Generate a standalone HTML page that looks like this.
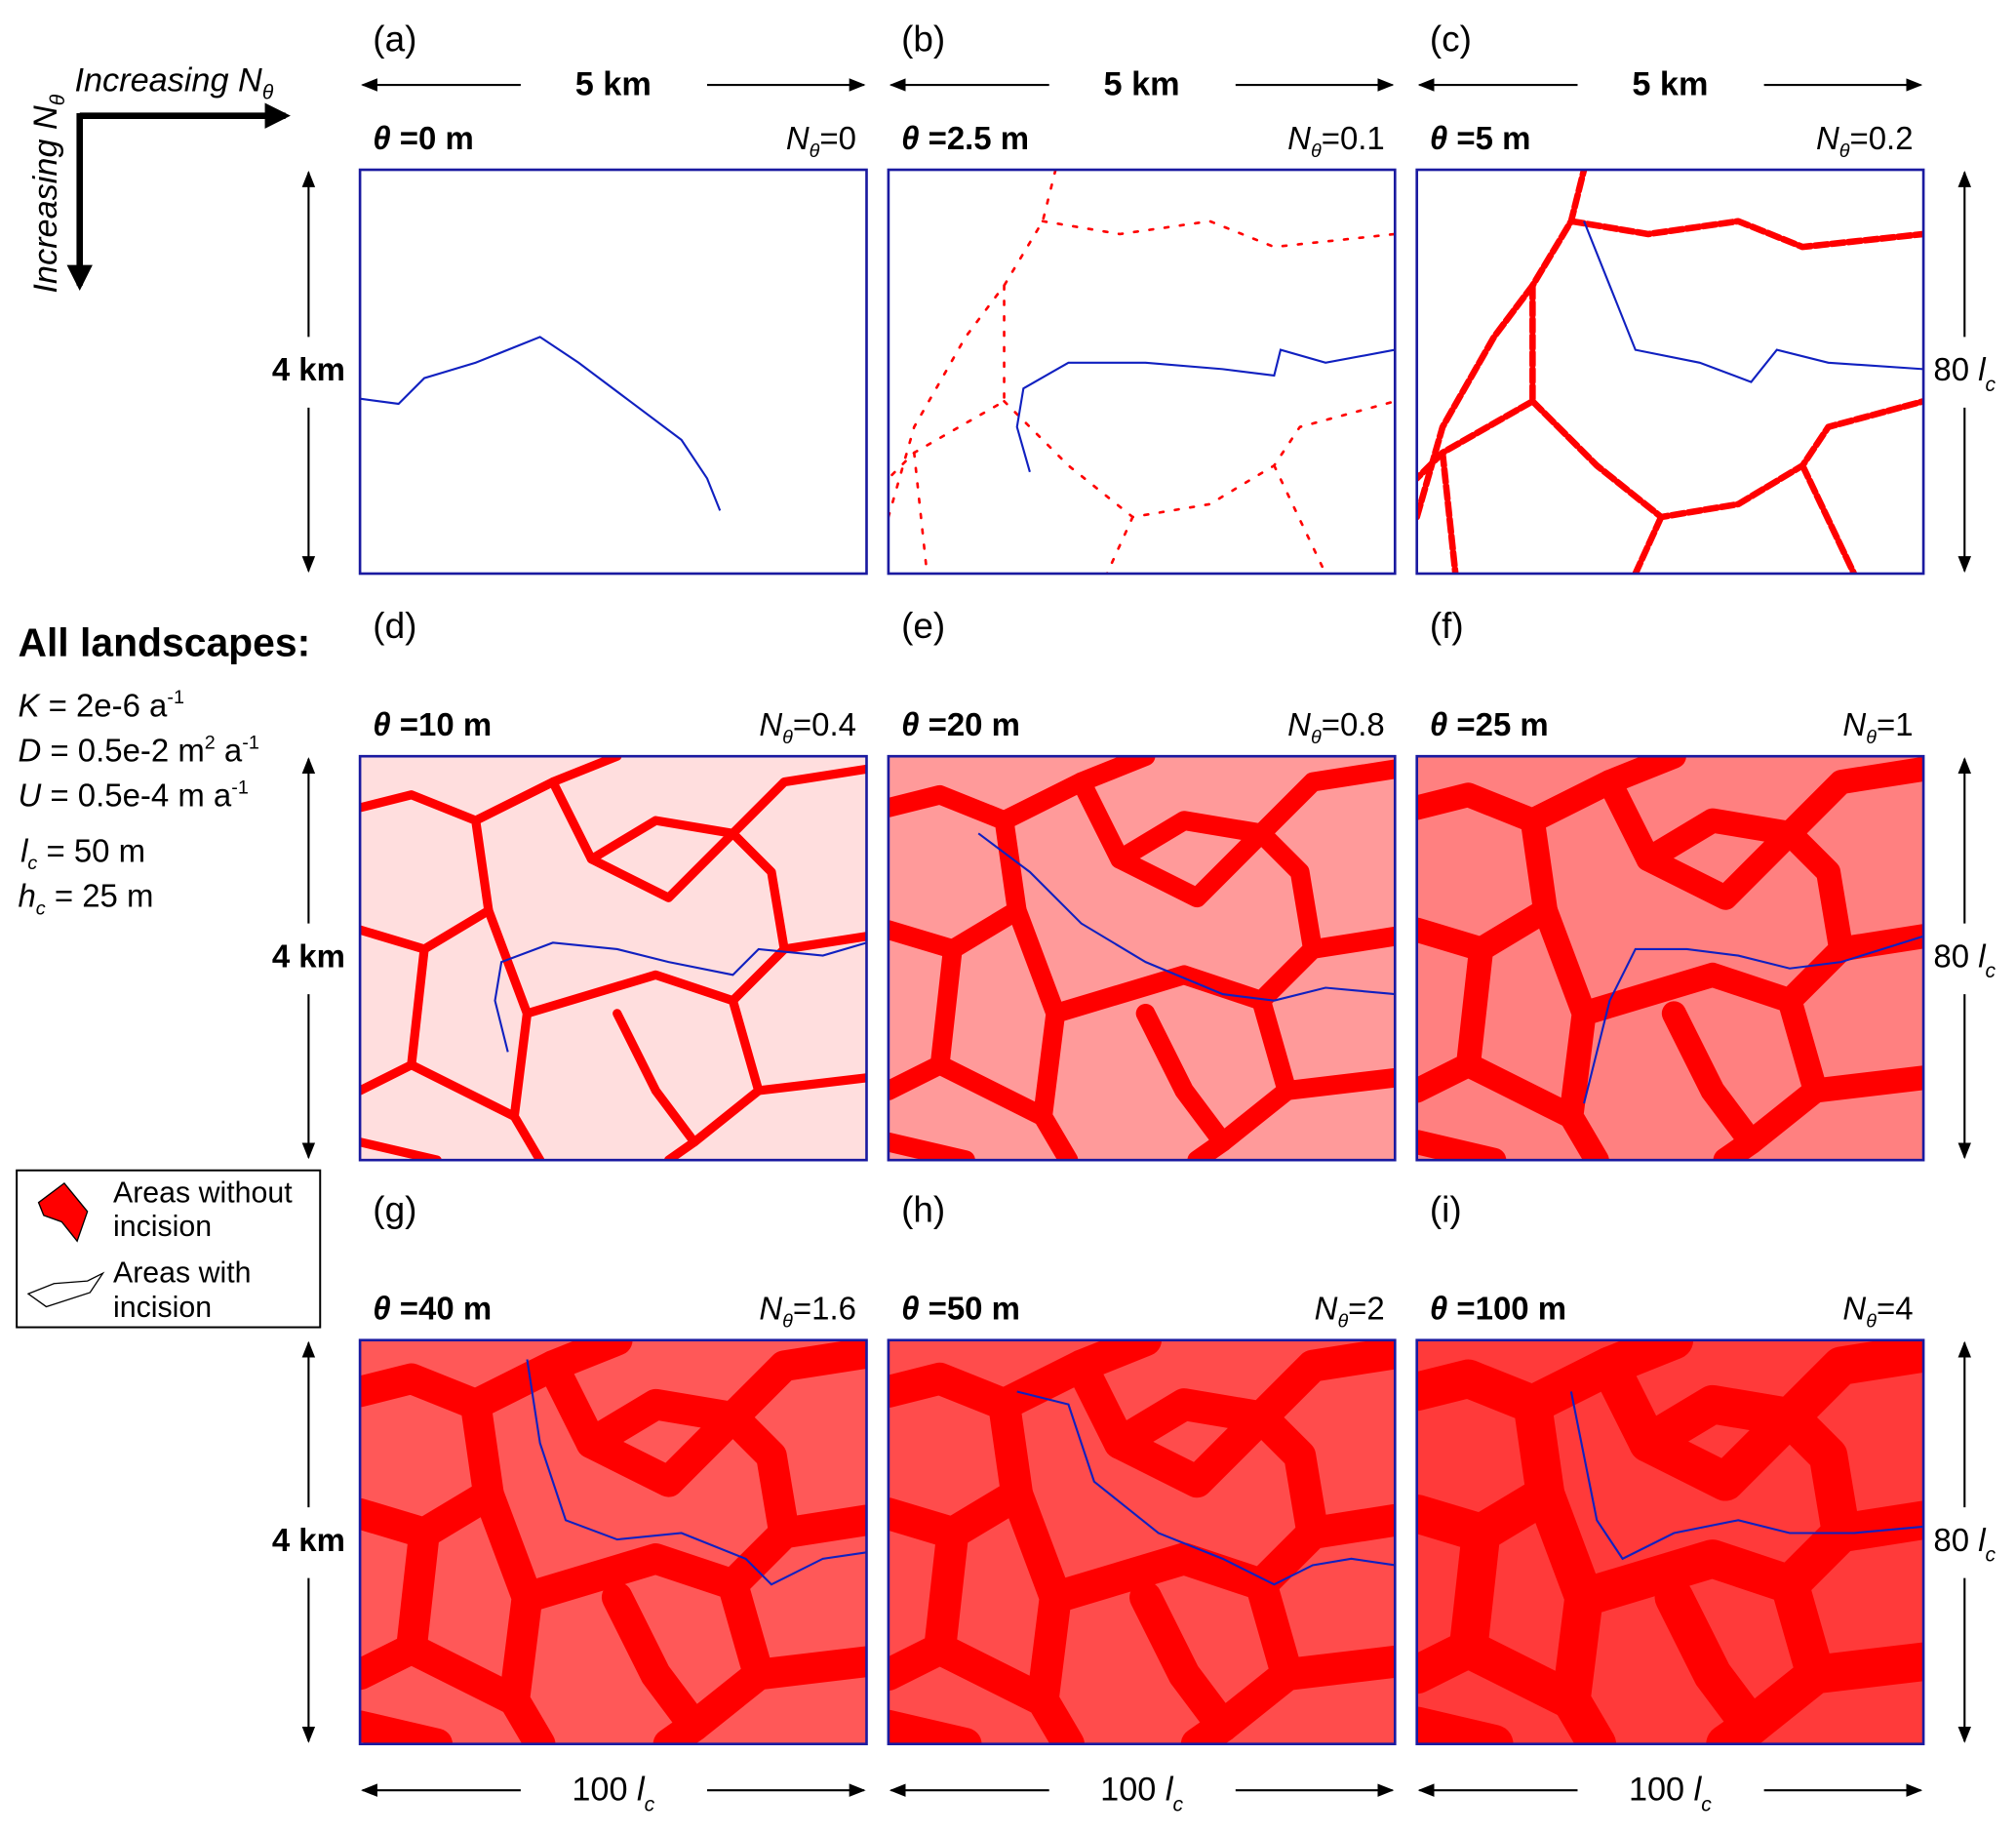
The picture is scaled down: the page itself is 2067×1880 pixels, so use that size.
<!DOCTYPE html>
<html><head><meta charset="utf-8">
<style>
html,body{margin:0;padding:0;background:#fff;}
svg{display:block;font-family:"Liberation Sans",Arial,sans-serif;}
</style></head>
<body>
<svg id="fig" width="2067" height="1880" viewBox="0 0 1568 1426" preserveAspectRatio="none" xmlns="http://www.w3.org/2000/svg">
<defs>
<marker id="ah" viewBox="0 0 10 10" refX="9" refY="5" markerWidth="8" markerHeight="8" orient="auto-start-reverse"><path d="M0,1 L10,5 L0,9 z" fill="#000"/></marker>
<marker id="ahb" viewBox="0 0 10 10" refX="8" refY="5" markerWidth="4" markerHeight="4" orient="auto-start-reverse"><path d="M0,0 L10,5 L0,10 z" fill="#000"/></marker>
</defs>
<g id="panels"></g>
<g id="annot">
  <!-- direction arrows -->
  <line x1="62" y1="90" x2="222" y2="90" stroke="#000" stroke-width="5" marker-end="url(#ahb)"/>
  <line x1="62" y1="88" x2="62" y2="222" stroke="#000" stroke-width="5" marker-end="url(#ahb)"/>
  <text x="58" y="71" font-size="26" font-style="italic">Increasing  N<tspan font-size="16" dy="6">θ</tspan></text>
  <text transform="translate(44,228) rotate(-90)" font-size="26" font-style="italic">Increasing  N<tspan font-size="16" dy="6">θ</tspan></text>
  <!-- side texts -->
  <text x="14" y="510" font-size="31" font-weight="bold">All landscapes:</text>
  <g font-size="25">
    <text x="14" y="557"><tspan font-style="italic">K</tspan> = 2e-6 a<tspan font-size="15" dy="-10">-1</tspan></text>
    <text x="14" y="592"><tspan font-style="italic">D</tspan> = 0.5e-2 m<tspan font-size="15" dy="-10">2</tspan><tspan dy="10"> a</tspan><tspan font-size="15" dy="-10">-1</tspan></text>
    <text x="14" y="627"><tspan font-style="italic">U</tspan> = 0.5e-4 m a<tspan font-size="15" dy="-10">-1</tspan></text>
    <text x="16" y="670"><tspan font-style="italic">l</tspan><tspan font-size="15" dy="6" font-style="italic">c</tspan><tspan dy="-6"> = 50 m</tspan></text>
    <text x="14" y="705"><tspan font-style="italic">h</tspan><tspan font-size="15" dy="6" font-style="italic">c</tspan><tspan dy="-6"> = 25 m</tspan></text>
  </g>
  <g>
    <rect x="13" y="910" width="236" height="122" fill="#fff" stroke="#000" stroke-width="1.5"/>
    <path d="M30,935 L50,920 L68,942 L60,965 L48,950 L34,945 Z" fill="#f00" stroke="#000" stroke-width="1"/>
    <text x="88" y="935" font-size="23">Areas without</text>
    <text x="88" y="961" font-size="23">incision</text>
    <path d="M22,1006 L42,998 L68,996 L80,990 L70,1005 L36,1016 Z" fill="#fff" stroke="#000" stroke-width="1"/>
    <text x="88" y="997" font-size="23">Areas with</text>
    <text x="88" y="1024" font-size="23">incision</text>
  </g>
</g>
</svg>
<script>
// panel data
const panelLabels = ['(a)','(b)','(c)','(d)','(e)','(f)','(g)','(h)','(i)'];
const thetaLabels = ['0','2.5','5','10','20','25','40','50','100'];
const nThetaValues = ['0','0.1','0.2','0.4','0.8','1','1.6','2','4'];
const redFill = ['#ffffff','#ffffff','#ffffff','#ffdede','#ff9a9a','#ff8080','#ff5858','#ff4c4c','#ff3a3a'];
const ridgeWidth = [0,2,5,7,15,19,24,25,30];

const colX = [280, 691, 1102];
const rowY = [132, 588, 1042];
const PW = 394, PH = 314;

// ridge network (panel-local coordinates)
const ridges = [
 [[0,40],[40,30],[90,50],[100,120],[50,150],[0,135]],
 [[100,120],[130,200],[120,280],[140,314]],
 [[130,200],[230,170],[290,190],[330,150],[394,140]],
 [[290,190],[310,260],[260,300],[240,314]],
 [[310,260],[394,250]],
 [[90,50],[150,20],[200,0]],
 [[150,20],[180,80],[230,50],[290,60],[330,20],[394,10]],
 [[180,80],[240,110],[290,60]],
 [[330,150],[320,90],[290,60]],
 [[50,150],[40,240],[0,260]],
 [[40,240],[120,280]],
 [[0,300],[60,314]],
 [[200,200],[230,260],[260,300]]
];
const ridgesTop = [
 [[0,270],[20,200],[60,130],[90,90],[120,40],[130,0]],
 [[120,40],[180,50],[250,40],[300,60],[394,50]],
 [[90,90],[90,180],[20,220],[0,240]],
 [[90,180],[140,230],[190,270],[250,260],[300,230],[320,200],[394,180]],
 [[20,220],[30,314]],
 [[190,270],[170,314]],
 [[300,230],[340,314]]
];
// blue river per panel (panel-local)
const rivers = [
 [[0,178],[30,182],[50,162],[90,150],[140,130],[170,150],[210,180],[250,210],[270,240],[280,265]],
 [[110,235],[100,200],[105,170],[140,150],[200,150],[260,155],[300,160],[305,140],[340,150],[394,140]],
 [[130,40],[150,90],[170,140],[220,150],[260,165],[280,140],[320,150],[394,155]],
 [[115,230],[105,190],[110,160],[150,145],[200,150],[240,160],[290,170],[310,150],[360,155],[394,145]],
 [[70,60],[110,90],[150,130],[200,160],[260,185],[300,190],[340,180],[394,185]],
 [[130,270],[140,230],[150,190],[170,150],[210,150],[250,155],[290,165],[330,160],[394,140]],
 [[130,15],[140,80],[160,140],[200,155],[250,150],[300,170],[320,190],[360,170],[394,165]],
 [[100,40],[140,50],[160,110],[210,150],[260,170],[300,190],[330,175],[360,170],[394,175]],
 [[120,40],[130,90],[140,140],[160,170],[200,150],[250,140],[290,150],[340,150],[394,145]]
];

const NS = 'http://www.w3.org/2000/svg';
const root = document.getElementById('panels');
function mk(tag, attrs, parent){const e=document.createElementNS(NS,tag);for(const k in attrs)e.setAttribute(k,attrs[k]);parent.appendChild(e);return e;}
function pts(arr,ox,oy){return arr.map(p=>(ox+p[0])+','+(oy+p[1])).join(' ');}

for(let i=0;i<9;i++){
  const ox = colX[i%3], oy = rowY[Math.floor(i/3)];
  const g = mk('g',{},root);
  
  
  const cid='clip'+i;
  const cp = mk('clipPath',{id:cid},g); mk('rect',{x:ox,y:oy,width:PW,height:PH},cp);
  const inner = mk('g',{'clip-path':'url(#'+cid+')'},g);
  mk('rect',{x:ox,y:oy,width:PW,height:PH,fill:redFill[i]},inner);
  if(ridgeWidth[i]>0){
    const net = i<3 ? ridgesTop : ridges;
    net.forEach(r=>{
      const l = mk('polyline',{points:pts(r,ox,oy),fill:'none',stroke:'#f00','stroke-width':ridgeWidth[i],'stroke-linejoin':'round','stroke-linecap':'round'},inner);
      if(i===1) l.setAttribute('stroke-dasharray','3 9');
      if(i===2) l.setAttribute('stroke-dasharray','10 3');
      
      
    });
  }
  const rv = mk('polyline',{points:pts(rivers[i],ox,oy),fill:'none',stroke:'#1020c0','stroke-width':1.6},inner);
  
  
  const fr = mk('rect',{x:ox,y:oy,width:PW,height:PH,fill:'none',stroke:'#1a1aa0','stroke-width':2},g);
  
  
  // labels
  const lbl = mk('text',{x:ox+10,y:oy-92,'font-size':28},g); lbl.textContent=panelLabels[i];
  
  
  const th = mk('text',{x:ox+10,y:oy-16,'font-size':25,'font-weight':'bold'},g);
  th.innerHTML='<tspan font-style="italic">θ</tspan> =' + thetaLabels[i] + ' m';
  
  
  const nt = mk('text',{x:ox+PW-8,y:oy-16,'font-size':25,'text-anchor':'end'},g);
  nt.innerHTML='<tspan font-style="italic">N</tspan><tspan font-size="15" dy="6" font-style="italic">θ</tspan><tspan dy="-6">=' + nThetaValues[i] + '</tspan>';
  
  
}
// scale arrows
const ann = document.getElementById('annot');
for(let c=0;c<3;c++){
  const x0=colX[c];
  [[66,'5 km',true],[1392,'100 l',false]].forEach(([y,t,bold])=>{
    const a1=mk('line',{x1:x0+125,y1:y,x2:x0+2,y2:y,stroke:'#000','stroke-width':1.6,'marker-end':'url(#ah)'},ann);
     
    const a2=mk('line',{x1:x0+270,y1:y,x2:x0+PW-2,y2:y,stroke:'#000','stroke-width':1.6,'marker-end':'url(#ah)'},ann);
     
    const tx=mk('text',{x:x0+197,y:y+8,'font-size':26,'text-anchor':'middle','font-weight':bold?'bold':'normal'},ann);
    if(bold) tx.textContent=t; else tx.innerHTML='100 <tspan font-style="italic">l</tspan><tspan font-size="16" dy="8" font-style="italic">c</tspan>';
     
  });
}
for(let r=0;r<3;r++){
  const y0=rowY[r];
  [[240,'4 km',true],[1528,'80 l',false]].forEach(([x,t,bold])=>{
    const a1=mk('line',{x1:x,y1:y0+130,x2:x,y2:y0+2,stroke:'#000','stroke-width':1.6,'marker-end':'url(#ah)'},ann);
     
    const a2=mk('line',{x1:x,y1:y0+185,x2:x,y2:y0+PH-2,stroke:'#000','stroke-width':1.6,'marker-end':'url(#ah)'},ann);
     
    const tx=mk('text',{x:x,y:y0+164,'font-size':25,'text-anchor':'middle','font-weight':bold?'bold':'normal'},ann);
    if(bold) tx.textContent=t; else tx.innerHTML='80 <tspan font-style="italic">l</tspan><tspan font-size="16" dy="8" font-style="italic">c</tspan>';
     
  });
}
</script>
</body></html>
